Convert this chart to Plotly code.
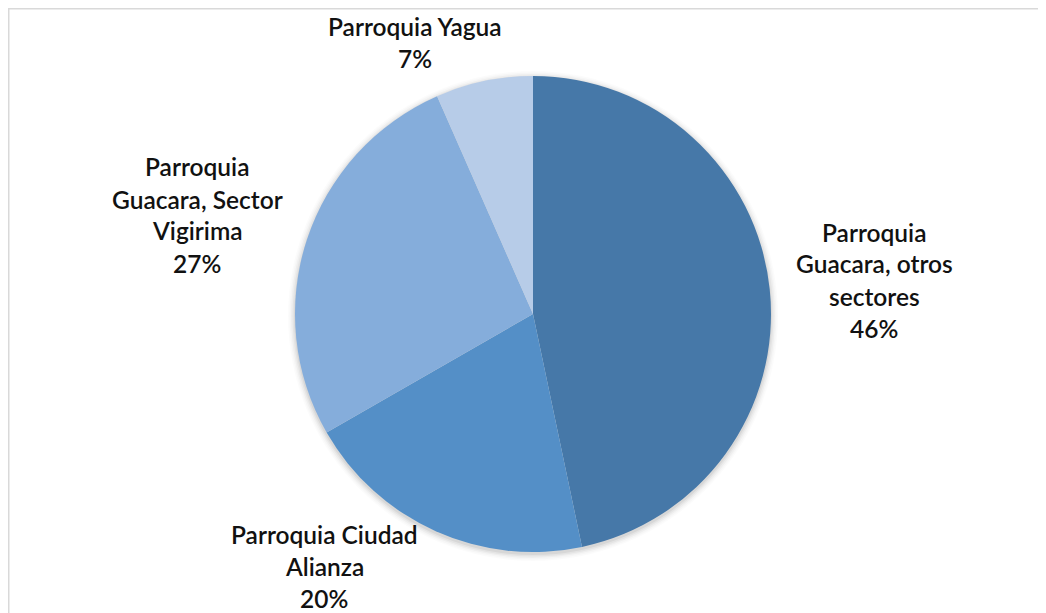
import plotly.graph_objects as go

# ---- data ----
categories = [
    "Parroquia Guacara, otros sectores",
    "Parroquia Ciudad Alianza",
    "Parroquia Guacara, Sector Vigirima",
    "Parroquia Yagua",
]
values = [46.7, 20.0, 26.7, 6.6]
pct_labels = ["46%", "20%", "27%", "7%"]
label_lines = [
    ["Parroquia", "Guacara, otros", "sectores"],
    ["Parroquia Ciudad", "Alianza"],
    ["Parroquia", "Guacara, Sector", "Vigirima"],
    ["Parroquia Yagua"],
]
colors = ["#4678A8", "#548FC7", "#85ADDB", "#B7CCE8"]

# ---- layout geometry (page pixels; page body has an 8px margin) ----
W, H = 1046, 613
OFF = 8
cx, cy, r = 533 - OFF, 314 - OFF, 238
label_centers = [(874, 280), (324, 566), (197, 215), (415, 43)]
line_gap = 32
FONT = "Lato, Carlito, Calibri, sans-serif"


def px(x):
    return x / W


def py(y):
    return 1 - y / H


fig = go.Figure(
    go.Pie(
        labels=categories,
        values=values,
        sort=False,
        direction="clockwise",
        rotation=0,
        textinfo="none",
        hoverinfo="label+percent",
        marker=dict(colors=colors, line=dict(width=0)),
        domain=dict(x=[px(cx - r), px(cx + r)], y=[py(cy + r), py(cy - r)]),
        showlegend=False,
    )
)

annotations = []
for lines, pct, (lx, ly) in zip(label_lines, pct_labels, label_centers):
    all_lines = lines + [pct]
    n = len(all_lines)
    for i, t in enumerate(all_lines):
        yy = ly - OFF + (i - (n - 1) / 2) * line_gap
        annotations.append(
            dict(
                x=px(lx - OFF), y=py(yy), xref="paper", yref="paper",
                text=t, showarrow=False,
                xanchor="center", yanchor="middle",
                font=dict(family=FONT, size=24.5, color="#111111", weight=600),
            )
        )

shapes = []
# soft shadow around the pie
for k, a in enumerate([0.05, 0.04, 0.03, 0.02, 0.015]):
    rr = r + 1 + k * 1.5
    oy = 2
    shapes.append(
        dict(
            type="circle", xref="paper", yref="paper", layer="below",
            x0=px(cx - rr), x1=px(cx + rr),
            y0=py(cy + oy + rr), y1=py(cy + oy - rr),
            fillcolor=f"rgba(0,0,0,{a})", line=dict(width=0),
        )
    )
# chart frame (top and left visible)
shapes.append(
    dict(
        type="rect", xref="paper", yref="paper", layer="below",
        x0=px(0.75), x1=px(W + 20), y0=py(H + 20), y1=py(0.75),
        line=dict(color="#d9d9d9", width=1.5), fillcolor="rgba(0,0,0,0)",
    )
)

fig.update_layout(
    width=W, height=H,
    margin=dict(l=0, r=0, t=0, b=0),
    paper_bgcolor="white", plot_bgcolor="white",
    annotations=annotations, shapes=shapes,
)

fig.write_html("out.html")
